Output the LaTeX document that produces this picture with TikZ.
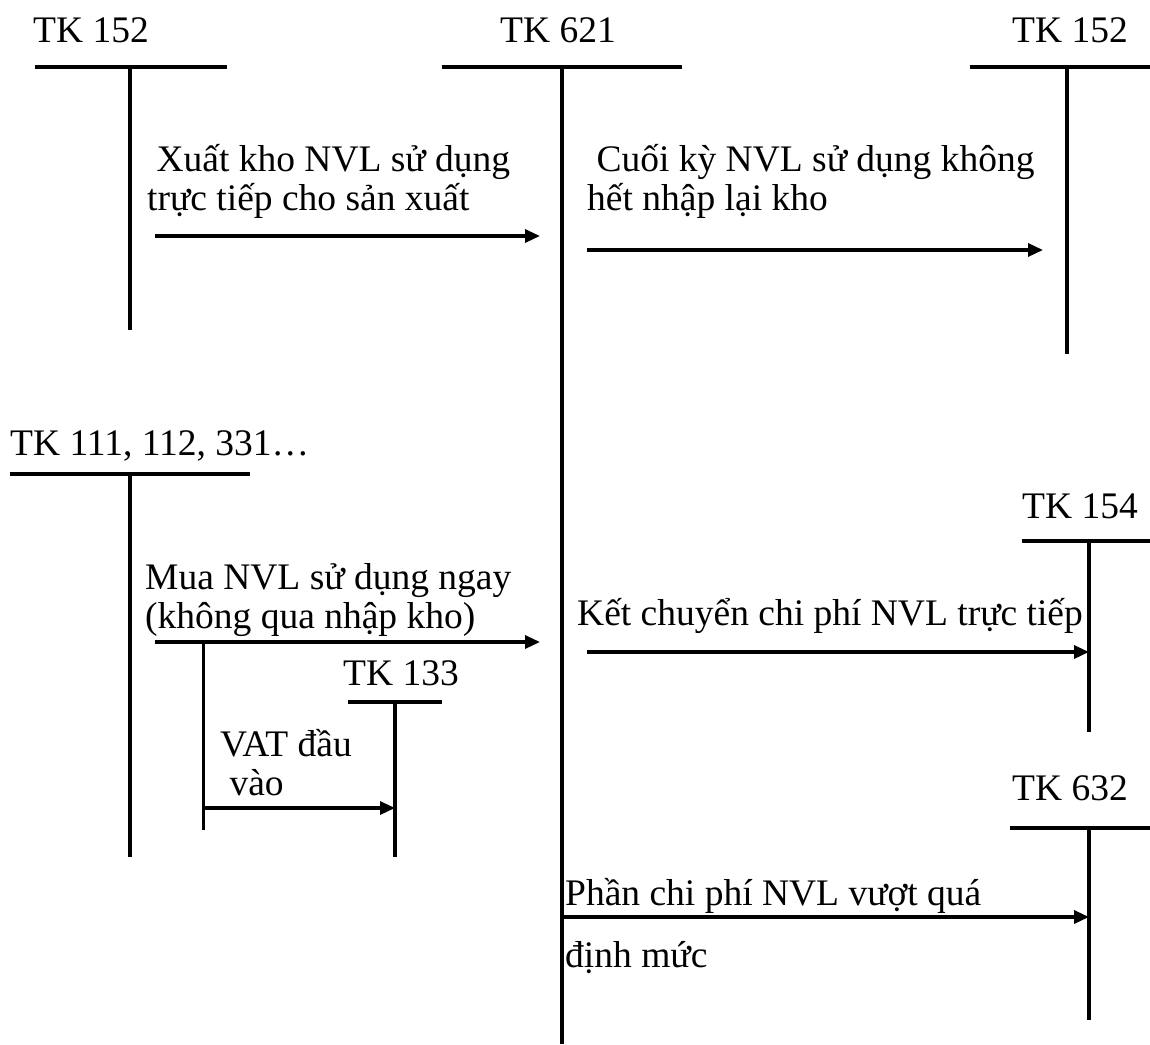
\documentclass[tikz,border=0pt]{standalone}
\usepackage{fontspec}
\setmainfont{Liberation Serif}
\usetikzlibrary{arrows.meta}
\begin{document}
\begin{tikzpicture}[x=1pt,y=-1pt,
  acct/.style={line width=3.5pt},
  flow/.style={line width=3.2pt,-{Triangle[length=15pt,width=13pt]}},
  lbl/.style={anchor=base west,inner sep=0pt,font=\fontsize{37.5}{40}\selectfont},
  txt/.style={anchor=base west,inner sep=0pt,align=left,font=\fontsize{37.5}{39}\selectfont}]
\useasboundingbox (0,0) rectangle (1150,1044);
% T accounts
\node[lbl] (a152l) at (33,42) {TK 152};
\draw[acct] (35,67) coordinate (h152la) -- (227,67);
\draw[acct] (130,67) coordinate (v152l) -- (130,330) coordinate (v152lb);

\node[lbl] (a621) at (500,42) {TK 621};
\draw[acct] (442,67) -- (682,67);
\draw[acct] (562,67) coordinate (v621) -- (562,1044) coordinate (v621b);

\node[lbl] (a152r) at (1012,42) {TK 152};
\draw[acct] (970,67) -- (1150,67);
\draw[acct] (1067,67) coordinate (v152r) -- (1067,354);

\node[lbl] (a111) at (10,455) {TK 111, 112, 331\ldots};
\draw[acct] (10,474) -- (250,474);
\draw[acct] (130,474) coordinate (v111) -- (130,857);

\node[lbl] (a133) at (343,685) {TK 133};
\draw[acct] (348,702) -- (442,702);
\draw[acct] (395,702) coordinate (v133) -- (395,857);

\node[lbl] (a154) at (1022,518) {TK 154};
\draw[acct] (1022,541) -- (1150,541);
\draw[acct] (1089,541) coordinate (v154) -- (1089,732);

\node[lbl] (a632) at (1012,800) {TK 632};
\draw[acct] (1010,828) -- (1150,828);
\draw[acct] (1089,828) coordinate (v632) -- (1089,1020);

% labels
\node[txt] (t1) at (147,210) {\ Xuất kho NVL sử dụng\\trực tiếp cho sản xuất};
\node[txt] (t2) at (587,210) {\ Cuối kỳ NVL sử dụng không\\hết nhập lại kho};
\node[txt] (t3) at (145,628) {Mua NVL sử dụng ngay\\(không qua nhập kho)};
\node[txt] (t4) at (220,795) {VAT đầu\\\ vào};
\node[txt] (t5) at (577,625) {Kết chuyển chi phí NVL trực tiếp};
\node[txt] (t6) at (565,905) {Phần chi phí NVL vượt quá};
\node[txt] (t7) at (565,967) {định mức};

% flows
\coordinate (s1) at (155,236); \coordinate (e1) at (540,236);
\coordinate (s2) at (587,250); \coordinate (e2) at (1043,250);
\coordinate (s3) at (155,642); \coordinate (e3) at (540,642);
\coordinate (b3) at (203,642); \coordinate (b3e) at (203,830);
\coordinate (s4) at (203,808); \coordinate (e4) at (395,808);
\coordinate (s5) at (587,652); \coordinate (e5) at (1089,652);
\coordinate (s6) at (562,917); \coordinate (e6) at (1089,917);
\draw[flow] (s1) -- (e1);
\draw[flow] (s2) -- (e2);
\draw[flow] (s3) -- (e3);
\draw[acct,line width=3pt] (b3) -- (b3e);
\draw[flow] (s4) -- (e4);
\draw[flow] (s5) -- (e5);
\draw[flow] (s6) -- (e6);
\end{tikzpicture}
\end{document}
